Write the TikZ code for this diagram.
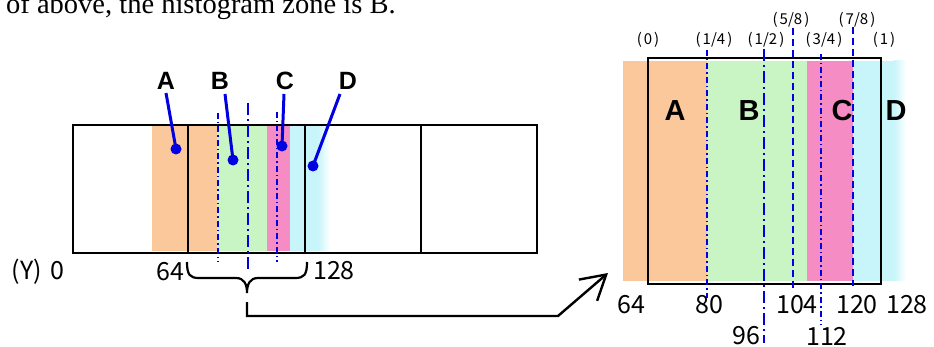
\documentclass[tikz,border=0pt]{standalone}
\usepackage{fontspec}
\setmainfont{Liberation Sans}
\newfontfamily\jfont{Noto Sans CJK JP}
\newfontfamily\tfont{Liberation Serif}
\usetikzlibrary{arrows.meta}
\definecolor{orng}{HTML}{FAC89B}
\definecolor{grn}{HTML}{C8F5C3}
\definecolor{pnk}{HTML}{F58CC3}
\definecolor{cyn}{HTML}{C8F5FA}
\definecolor{blu}{RGB}{0,0,225}
\tikzset{
  boxline/.style={line width=2.6pt, black},
  numlab/.style={font=\jfont\fontsize{25}{27}\selectfont, inner sep=0pt},
  fraclab/.style={font=\jfont\fontsize{15}{16}\selectfont, inner sep=0pt},
  letL/.style={font=\bfseries\fontsize{25}{27}\selectfont, inner sep=0pt},
  letR/.style={font=\bfseries\fontsize{29}{31}\selectfont, inner sep=0pt},
  callout/.style={blu, line width=3pt},
  dotmark/.style={blu, fill=blu},
  dotdash/.style={blu, line width=2.6pt, dash pattern=on 6pt off 3pt on 1.5pt off 3pt},
  longdash/.style={blu, line width=2.6pt, dash pattern=on 12pt off 4pt on 2pt off 4pt},
  plaindash/.style={blu, line width=2.8pt, dash pattern=on 7pt off 4pt},
}
\newcommand{\fr}[1]{(\hspace{2pt}#1\hspace{2pt})}
\begin{document}
\begin{tikzpicture}[x=1pt,y=-1pt]
\useasboundingbox (0,0) rectangle (934,347);
% header text
\node[font=\tfont\fontsize{28.5}{30}\selectfont, anchor=base west, inner sep=0pt] (hdr) at (6,14) {of above, the histogram zone is B.};

% ===== left panel fills =====
\fill[orng] (152,125) rectangle (217,251);
\fill[grn] (217,125) rectangle (267,251);
\fill[pnk] (267,125) rectangle (290,251);
\fill[cyn] (290,125) rectangle (318,251);
\shade[left color=cyn, right color=white] (318,125) rectangle (330,251);
% left panel box
\draw[boxline] (73,125) rectangle (537,253);
\draw[boxline] (188,125) -- (188,253);
\draw[boxline] (305,125) -- (305,253);
\draw[boxline] (421,125) -- (421,253);
% left dash lines
\coordinate (l1t) at (218,113); \coordinate (l1b) at (218,262);
\coordinate (l2t) at (248,103); \coordinate (l2b) at (248,269);
\coordinate (l3t) at (277,112); \coordinate (l3b) at (277,262);
\draw[dotdash] (l1t) -- (l1b);
\draw[longdash] (l2t) -- (l2b);
\draw[dotdash] (l3t) -- (l3b);
% callouts
\node[letL] (A) at (166,81) {A};
\node[letL] (B) at (220,81) {B};
\node[letL] (C) at (285,81) {C};
\node[letL] (D) at (348,81) {D};
\coordinate (dA) at (176,149);
\coordinate (dB) at (233,160);
\coordinate (dC) at (282,146);
\coordinate (dD) at (313,166);
\draw[callout] (166,93) -- (dA);
\draw[callout] (225,94) -- (dB);
\draw[callout] (284,94) -- (dC);
\draw[callout] (340,94) -- (dD);
\foreach \d in {dA,dB,dC,dD} \fill[dotmark] (\d) circle (5.5pt);
% left labels
\node[numlab] (Y0) at (38,272) {(Y)\hspace{8pt}0};
\node[numlab] (n64L) at (170,272) {64};
\node[numlab] (n128L) at (334,271) {128};
% brace
\coordinate (brL) at (187,262);
\coordinate (brR) at (307,262);
\coordinate (brTip) at (247,293);
\draw[line width=2.2pt] (brL) .. controls +(0,13) and +(-9,0) .. (199,278) -- (236,278)
  .. controls +(8,0) and +(0,-9) .. (brTip)
  .. controls +(0,-9) and +(-8,0) .. (258,278) -- (295,278)
  .. controls +(9,0) and +(0,13) .. (brR);
% connector arrow
\coordinate (arS) at (247,302);
\coordinate (arE) at (608,273);
\draw[line width=2.4pt, -{Straight Barb[length=24pt, width=28pt, line width=2.4pt]}]
  (arS) -- (247,316) -- (558,316) -- (arE);

% ===== right panel =====
\fill[orng] (623,61) rectangle (707,281);
\fill[grn] (707,61) rectangle (807,281);
\fill[pnk] (807,61) rectangle (853,281);
\fill[cyn] (853,61) rectangle (894,281);
\shade[left color=cyn, right color=white] (894,61) rectangle (906,281);
\draw[boxline] (648,58) rectangle (881,284);
% right lines
\coordinate (r1t) at (707,50); \coordinate (r1b) at (707,298);
\coordinate (r2t) at (764,49); \coordinate (r2b) at (764,343);
\coordinate (r3t) at (793,28); \coordinate (r3b) at (793,288);
\coordinate (r4t) at (821,54); \coordinate (r4b) at (821,325);
\coordinate (r5t) at (853,27); \coordinate (r5b) at (853,286);
\draw[dotdash] (r1t) -- (r1b);
\draw[longdash] (r2t) -- (r2b);
\draw[plaindash] (r3t) -- (r3b);
\draw[dotdash] (r4t) -- (r4b);
\draw[plaindash] (r5t) -- (r5b);
% fraction labels
\node[fraclab] (f0) at (648,40) {\fr{0}};
\node[fraclab] (f14) at (714,40) {\fr{1/4}};
\node[fraclab] (f12) at (766,40) {\fr{1/2}};
\node[fraclab] (f58) at (791,20) {\fr{5/8}};
\node[fraclab] (f34) at (824,40) {\fr{3/4}};
\node[fraclab] (f78) at (857,20) {\fr{7/8}};
\node[fraclab] (f1) at (884,40) {\fr{1}};
% zone letters
\node[letR] (RA) at (675,111) {A};
\node[letR] (RB) at (749,111) {B};
\node[letR] (RC) at (842,111) {C};
\node[letR] (RD) at (896,111) {D};
% bottom numbers
\node[numlab] (r64) at (631,305) {64};
\node[numlab] (r80) at (709,305) {80};
\node[numlab] (r104) at (797,305) {104};
\node[numlab] (r120) at (857,305) {120};
\node[numlab] (r128) at (907,305) {128};
\node[numlab] (r96) at (746,336) {96};
\node[numlab] (r112) at (827,336) {112};
\end{tikzpicture}
\end{document}
